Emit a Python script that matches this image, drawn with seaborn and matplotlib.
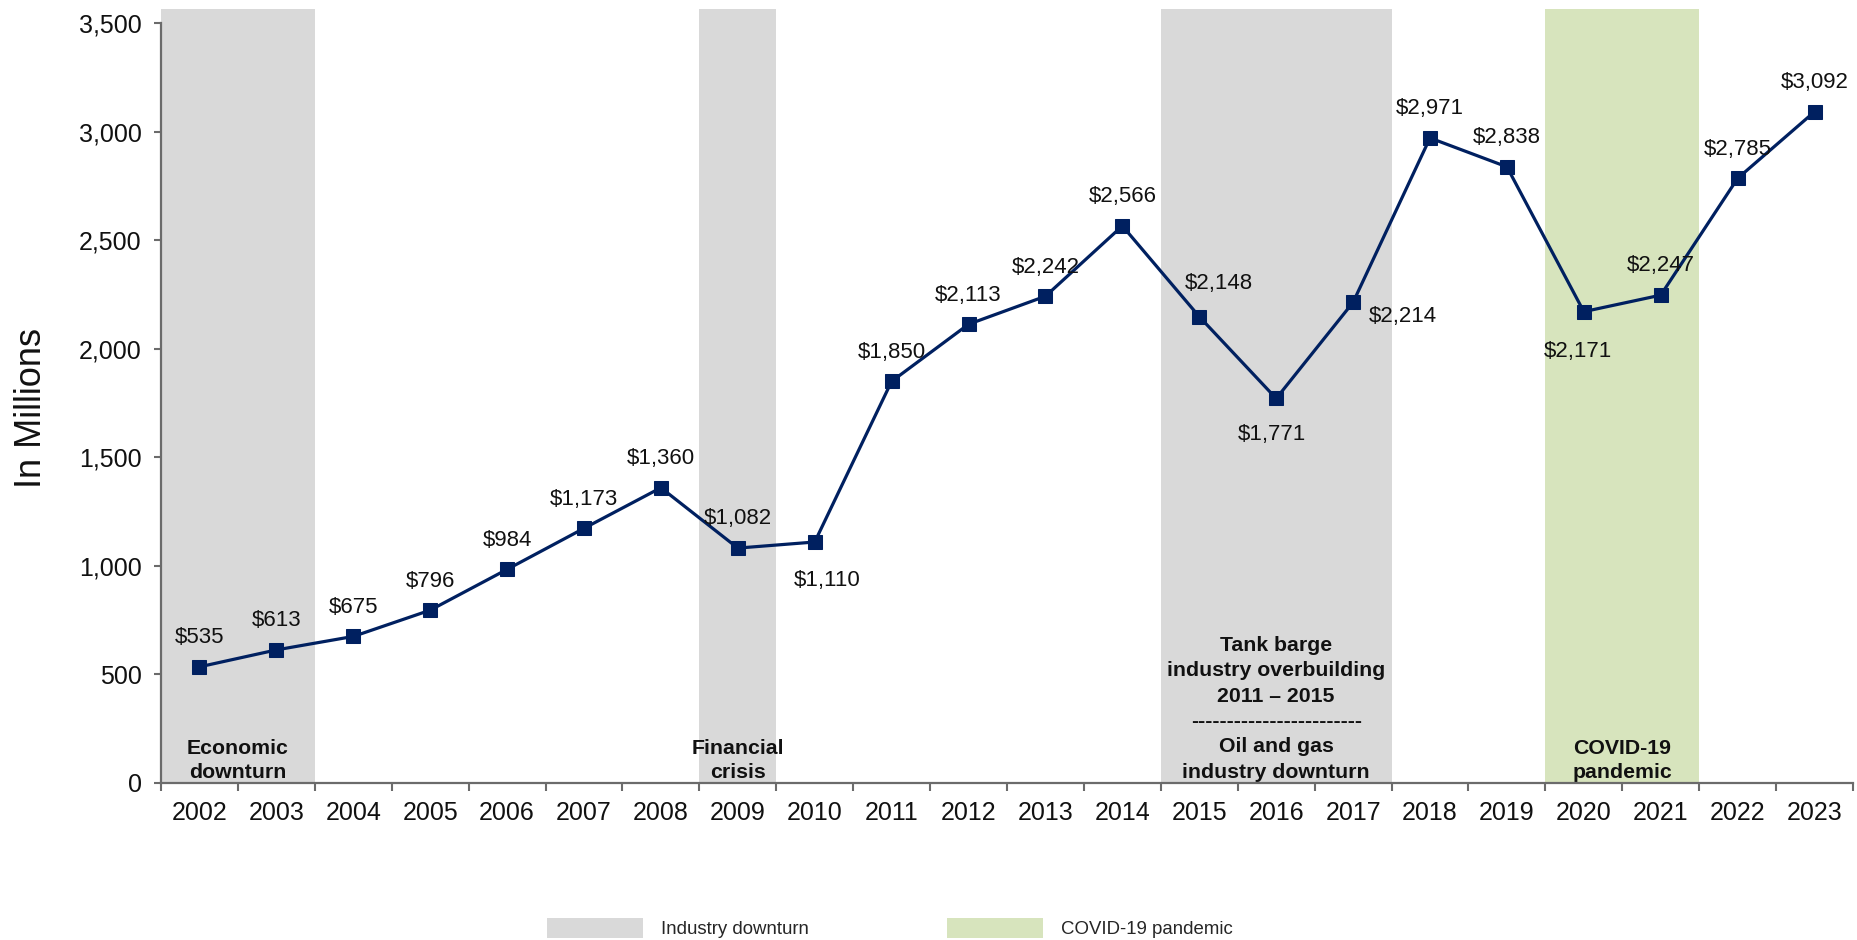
import matplotlib
matplotlib.use("Agg")
import matplotlib.pyplot as plt
from matplotlib.patches import Patch
from matplotlib.ticker import FixedLocator, FuncFormatter
import numpy as np
import pandas as pd
import seaborn as sns

# ---- data -------------------------------------------------------------
years = [str(y) for y in range(2002, 2024)]
revenue = [535, 613, 675, 796, 984, 1173, 1360, 1082, 1110, 1850, 2113,
           2242, 2566, 2148, 1771, 2214, 2971, 2838, 2171, 2247, 2785, 3092]

# label offsets (points) for values whose label is not simply above the marker
label_offsets = {"2010": (9, -28), "2015": (14, 24), "2016": (-3, -26),
                 "2017": (36, -10), "2020": (-4, -29)}

band_starts = ["2002", "2009", "2015", "2020"]
band_ends = ["2003", "2009", "2017", "2021"]
band_kinds = ["downturn", "downturn", "downturn", "covid"]
band_texts = ["Economic\ndownturn",
              "Financial\ncrisis",
              "Tank barge\nindustry overbuilding\n2011 \u2013 2015\n"
              "------------------------\nOil and gas\nindustry downturn",
              "COVID-19\npandemic"]
band_linespacing = [1.33, 1.33, 1.42, 1.33]

legend_labels = ["Industry downturn", "COVID-19 pandemic"]
y_ticks = [0, 500, 1000, 1500, 2000, 2500, 3000, 3500]

# ---- style ------------------------------------------------------------
sns.set_theme(style="white")
plt.rcParams["font.family"] = ["Liberation Sans", "DejaVu Sans"]

LINE = "#002060"
GREY = "#d9d9d9"
GREEN = "#d7e4bd"
AXIS = "#6b6b6b"
band_colors = {"downturn": GREY, "covid": GREEN}

df = pd.DataFrame({"year": years, "revenue": revenue})

fig = plt.figure(figsize=(18.58, 9.40), dpi=100)
ax = fig.add_axes([161 / 1858, 1 - 783 / 940, 1692 / 1858, 774 / 940])

sns.lineplot(data=df, x="year", y="revenue", ax=ax, color=LINE, lw=2.3,
             marker="s", markersize=10, markeredgecolor=LINE,
             markerfacecolor=LINE, errorbar=None, zorder=3)

# shaded periods
pos = {y: i for i, y in enumerate(years)}
for s, e, k, t, ls in zip(band_starts, band_ends, band_kinds, band_texts,
                          band_linespacing):
    ax.axvspan(pos[s] - 0.5, pos[e] + 0.5, color=band_colors[k], lw=0, zorder=0)
    ax.annotate(t, ((pos[s] + pos[e]) / 2, 0), xytext=(0, 1),
                textcoords="offset points", ha="center", va="bottom",
                fontsize=15.3, fontweight="bold", color="#111111",
                linespacing=ls, zorder=2)

# value labels
for y, v in zip(years, revenue):
    dx, dy = label_offsets.get(y, (0, 21))
    ax.annotate(f"${v:,}", (pos[y], v), xytext=(dx, dy),
                textcoords="offset points", ha="center", va="center",
                fontsize=16, color="#111111", zorder=4)

# axes
ax.set_xlim(-0.5, len(years) - 0.5)
ax.set_ylim(0, 3565)
ax.set_yticks(y_ticks)
ax.yaxis.set_major_formatter(FuncFormatter(lambda v, p: f"{int(v):,}"))
ax.set_xticks(range(len(years)))
ax.set_xticklabels(years)
ax.xaxis.set_minor_locator(FixedLocator(np.arange(-0.5, len(years), 1.0)))

ax.set_xlabel("")
ax.set_ylabel("In Millions", fontsize=26, color="#111111")
ax.yaxis.set_label_coords(-0.066, 0.485)

for side in ["top", "right"]:
    ax.spines[side].set_visible(False)
for side in ["left", "bottom"]:
    ax.spines[side].set_color(AXIS)
    ax.spines[side].set_linewidth(1.6)
ax.spines["left"].set_bounds(0, 3500)

ax.tick_params(axis="y", which="major", left=True, length=5, width=1.5,
               color=AXIS, labelsize=18, pad=9, labelcolor="#111111")
ax.tick_params(axis="x", which="major", bottom=True, length=0, labelsize=18,
               pad=13, labelcolor="#111111")
ax.tick_params(axis="x", which="minor", bottom=True, length=6, width=1.5,
               color=AXIS)
ax.grid(False)

# legend
handles = [Patch(facecolor=GREY, edgecolor="none", label=legend_labels[0]),
           Patch(facecolor=GREEN, edgecolor="none", label=legend_labels[1])]
fs = 13.4 * 100 / 72
fig.legend(handles=handles, loc="center left",
           bbox_to_anchor=(547 / 1858, 12 / 940), ncol=2, frameon=False,
           fontsize=13.4, handlelength=96 / fs, handleheight=24 / fs,
           handletextpad=18 / fs, columnspacing=138 / fs,
           borderpad=0, borderaxespad=0)

fig.savefig("out.png", dpi=100)
